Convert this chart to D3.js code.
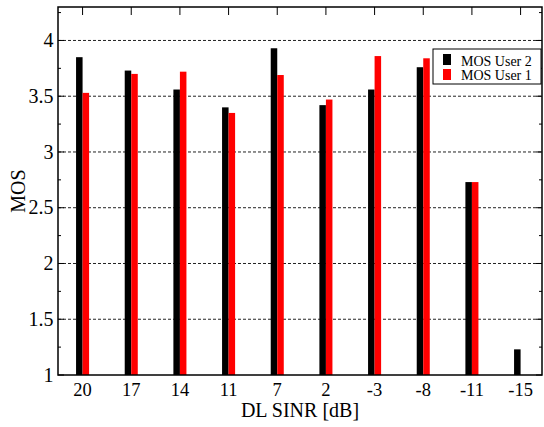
<!DOCTYPE html>
<html>
<head>
<meta charset="utf-8">
<script src="https://cdn.jsdelivr.net/npm/d3@7"></script>
<style>
  body { margin: 0; background: #fff; }
  svg text { font-family: "Liberation Serif", "DejaVu Serif", serif; fill: #000; }
</style>
</head>
<body>
<svg width="544" height="427"></svg>
<script>
// data
let sinr = ["20", "17", "14", "11", "7", "2", "-3", "-8", "-11", "-15"];
let mosUser2 = [3.85, 3.73, 3.56, 3.40, 3.93, 3.42, 3.56, 3.76, 2.73, 1.23];
let mosUser1 = [3.53, 3.70, 3.72, 3.35, 3.69, 3.47, 3.86, 3.84, 2.73, null];
let yTicks = [1, 1.5, 2, 2.5, 3, 3.5, 4];
let seriesNames = ["MOS User 2", "MOS User 1"];
let seriesColors = ["#000000", "#ff0000"];

var svg = d3.select("svg");
// plot box (named so they don't clash with window.top)
var pL = 58, pR = 542, pT = 7, pB = 375;

// category index 1..10 on a linear axis
var x = d3.scaleLinear().domain([0.495, 10.44]).range([pL, pR]);
var y = d3.scaleLinear().domain([1, 4.3]).range([pB, pT]);
var barW = 0.134; // in category units

// grid
svg.append("g")
    .selectAll("line")
    .data(yTicks.filter(d => d > 1))
    .enter().append("line")
    .attr("x1", pL).attr("x2", pR)
    .attr("y1", d => y(d)).attr("y2", d => y(d))
    .attr("stroke", "#222")
    .attr("stroke-width", 1)
    .attr("stroke-dasharray", "3,2");

// bars
var series = [mosUser2, mosUser1];
series.forEach(function(vals, s){
    svg.append("g")
        .selectAll("rect")
        .data(vals.map((v, i) => ({v: v, i: i + 1})).filter(d => d.v != null))
        .enter().append("rect")
        .attr("x", d => s == 0 ? x(d.i - barW) : x(d.i))
        .attr("width", x(barW) - x(0))
        .attr("y", d => y(d.v))
        .attr("height", d => y(1) - y(d.v))
        .attr("fill", seriesColors[s]);
});

// left + right inward ticks, minor every 0.25
var minor = d3.range(1, 4.3, 0.25);
var gl = svg.append("g");
gl.selectAll(".l")
    .data(minor)
    .enter().append("line")
    .attr("x1", pL).attr("x2", (d, i) => pL + (i % 2 == 0 ? 6 : 3))
    .attr("y1", d => y(d)).attr("y2", d => y(d))
    .attr("stroke", "#000");
gl.selectAll(".r")
    .data(minor)
    .enter().append("line")
    .attr("x1", pR).attr("x2", (d, i) => pR - (i % 2 == 0 ? 6 : 3))
    .attr("y1", d => y(d)).attr("y2", d => y(d))
    .attr("stroke", "#000");

// y tick labels
svg.append("g")
    .selectAll("text")
    .data(yTicks)
    .enter().append("text")
    .attr("x", pL - 4.5)
    .attr("y", d => y(d))
    .attr("dy", "0.33em")
    .attr("text-anchor", "end")
    .attr("font-size", 20)
    .text(d => d3.format("")(d));

// top ticks
svg.append("g")
    .selectAll("line")
    .data(sinr)
    .enter().append("line")
    .attr("x1", (d, i) => x(i + 1)).attr("x2", (d, i) => x(i + 1))
    .attr("y1", pT).attr("y2", pT + 8)
    .attr("stroke", "#000");

// x tick labels
svg.append("g")
    .selectAll("text")
    .data(sinr)
    .enter().append("text")
    .attr("x", (d, i) => x(i + 1))
    .attr("y", 396)
    .attr("text-anchor", "middle")
    .attr("font-size", 18.5)
    .text(d => d);

// frame
svg.append("rect")
    .attr("x", pL).attr("y", pT)
    .attr("width", pR - pL).attr("height", pB - pT)
    .attr("fill", "none")
    .attr("stroke", "#000")
    .attr("stroke-width", 1.5);

// axis titles
svg.append("text")
    .attr("x", (pL + pR) / 2)
    .attr("y", 417)
    .attr("text-anchor", "middle")
    .attr("font-size", 20)
    .text("DL SINR [dB]");

svg.append("text")
    .attr("transform", "translate(25," + ((pT + pB) / 2) + ") rotate(-90)")
    .attr("text-anchor", "middle")
    .attr("font-size", 20)
    .text("MOS");

// legend
var lg = svg.append("g").attr("transform", "translate(433,49)");
lg.append("rect")
    .attr("width", 108).attr("height", 35)
    .attr("fill", "#fff")
    .attr("stroke", "#000")
    .attr("stroke-width", 1);
seriesNames.forEach(function(name, i){
    lg.append("rect")
        .attr("x", 10).attr("y", 5 + i * 15)
        .attr("width", 8).attr("height", 11)
        .attr("fill", seriesColors[i]);
    lg.append("text")
        .attr("x", 28).attr("y", 16.5 + i * 14.5)
        .attr("font-size", 14)
        .text(name);
});
</script>
</body>
</html>
